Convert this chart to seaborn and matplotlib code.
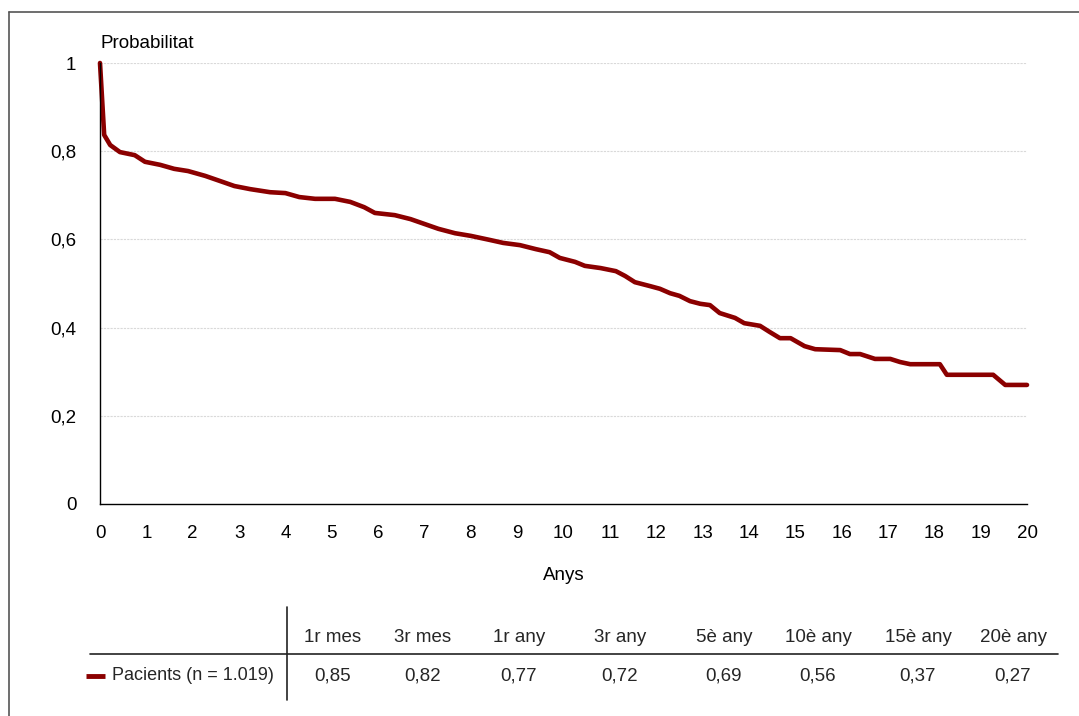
# Survival curve (probabilitat) with summary table below
import numpy as np
import pandas as pd
import matplotlib
matplotlib.use("Agg")
import matplotlib.pyplot as plt
import seaborn as sns
from matplotlib.lines import Line2D

# -----------------------------------------
# Data
# -----------------------------------------
anys = [0, 0.09, 0.22, 0.43, 0.75, 0.97, 1.3, 1.6, 1.9, 2.27, 2.6, 2.9, 3.24,
        3.67, 4.0, 4.3, 4.64, 5.07, 5.4, 5.7, 5.93, 6.36, 6.7, 7.0, 7.3, 7.66,
        8.0, 8.4, 8.7, 9.06, 9.4, 9.7, 9.92, 10.25, 10.46, 10.8, 11.13, 11.33,
        11.54, 11.87, 12.08, 12.3, 12.5, 12.73, 12.95, 13.16, 13.37, 13.7, 13.9,
        14.24, 14.45, 14.67, 14.9, 15.2, 15.43, 15.97, 16.18, 16.4, 16.72,
        17.05, 17.26, 17.48, 18.12, 18.27, 19.27, 19.53, 20]
probabilitat = [1.0, 0.837, 0.814, 0.798, 0.791, 0.776, 0.769, 0.76, 0.755,
                0.744, 0.732, 0.721, 0.714, 0.707, 0.705, 0.696, 0.692, 0.692,
                0.685, 0.673, 0.66, 0.655, 0.646, 0.635, 0.624, 0.614, 0.608,
                0.599, 0.592, 0.587, 0.578, 0.571, 0.558, 0.549, 0.54, 0.535,
                0.528, 0.517, 0.503, 0.494, 0.488, 0.478, 0.472, 0.46, 0.454,
                0.451, 0.433, 0.422, 0.41, 0.404, 0.39, 0.376, 0.376, 0.358,
                0.351, 0.349, 0.34, 0.34, 0.329, 0.329, 0.322, 0.317, 0.317,
                0.293, 0.293, 0.27, 0.27]

periodes = ["1r mes", "3r mes", "1r any", "3r any", "5è any", "10è any",
            "15è any", "20è any"]
valors = [0.85, 0.82, 0.77, 0.72, 0.69, 0.56, 0.37, 0.27]
serie = "Pacients (n = 1.019)"

COLOR = "#8B0000"
FS = 13.5

# -----------------------------------------
# Style
# -----------------------------------------
sns.set_theme(style="white")
plt.rcParams["font.family"] = ["Liberation Sans Narrow", "Liberation Sans", "DejaVu Sans"]
plt.rcParams["font.size"] = FS

W, H = 1079, 716
fig = plt.figure(figsize=(W / 100, H / 100), dpi=100)
ax = fig.add_axes([100 / W, 1 - 504 / H, 927 / W, 441 / H])

df = pd.DataFrame({"Anys": anys, "Probabilitat": probabilitat})
sns.lineplot(data=df, x="Anys", y="Probabilitat", ax=ax, color=COLOR,
             linewidth=3.3, solid_joinstyle="round", clip_on=False)

ax.set_xlim(0, 20)
ax.set_ylim(0, 1)
ax.set_xticks(range(0, 21))
ax.set_yticks([0, 0.2, 0.4, 0.6, 0.8, 1])
ax.set_yticklabels(["0", "0,2", "0,4", "0,6", "0,8", "1"])
ax.tick_params(axis="both", length=0, labelsize=FS, colors="black")
ax.tick_params(axis="y", pad=17)
ax.tick_params(axis="x", pad=15)
for y in [0.2, 0.4, 0.6, 0.8, 1.0]:
    ax.axhline(y, color="#d9d9d9", linewidth=0.8, linestyle=(0, (2, 1)), zorder=0)
for s in ["top", "right"]:
    ax.spines[s].set_visible(False)
for s in ["left", "bottom"]:
    ax.spines[s].set_color("black")
    ax.spines[s].set_linewidth(1.0)
ax.set_xlabel("Anys", fontsize=FS, labelpad=18, color="black")
ax.set_ylabel("")
ax.text(0, 1.025, "Probabilitat", transform=ax.transAxes, fontsize=FS,
        ha="left", va="bottom", color="black")

# -----------------------------------------
# Outer frame (left and top only, runs off the image)
# -----------------------------------------
fig.add_artist(Line2D([9 / W, 9 / W], [0, 1 - 12 / H], color="#555555", lw=1.2))
fig.add_artist(Line2D([9 / W, 1], [1 - 12 / H, 1 - 12 / H], color="#555555", lw=1.2))

# -----------------------------------------
# Table below the chart
# -----------------------------------------
col_x = [333, 423, 519, 620, 724, 818, 918, 1013]
y_head = 1 - 637 / H
y_val = 1 - 676 / H
fig.add_artist(Line2D([90 / W, 1058 / W], [1 - 654 / H, 1 - 654 / H], color="#222222", lw=1.2))
fig.add_artist(Line2D([287 / W, 287 / W], [1 - 607 / H, 1 - 700 / H], color="#222222", lw=1.2))
for cx, lab, v in zip(col_x, periodes, valors):
    fig.text(cx / W, y_head, lab, ha="center", va="center", fontsize=FS)
    fig.text(cx / W, y_val, f"{v:.2f}".replace(".", ","), ha="center", va="center", fontsize=FS)
fig.add_artist(Line2D([86 / W, 105 / W], [y_val, y_val], color=COLOR, lw=3.5, solid_capstyle="butt"))
fig.text(112 / W, y_val, serie, ha="left", va="center", fontsize=13)

fig.savefig("out.png", dpi=100)
